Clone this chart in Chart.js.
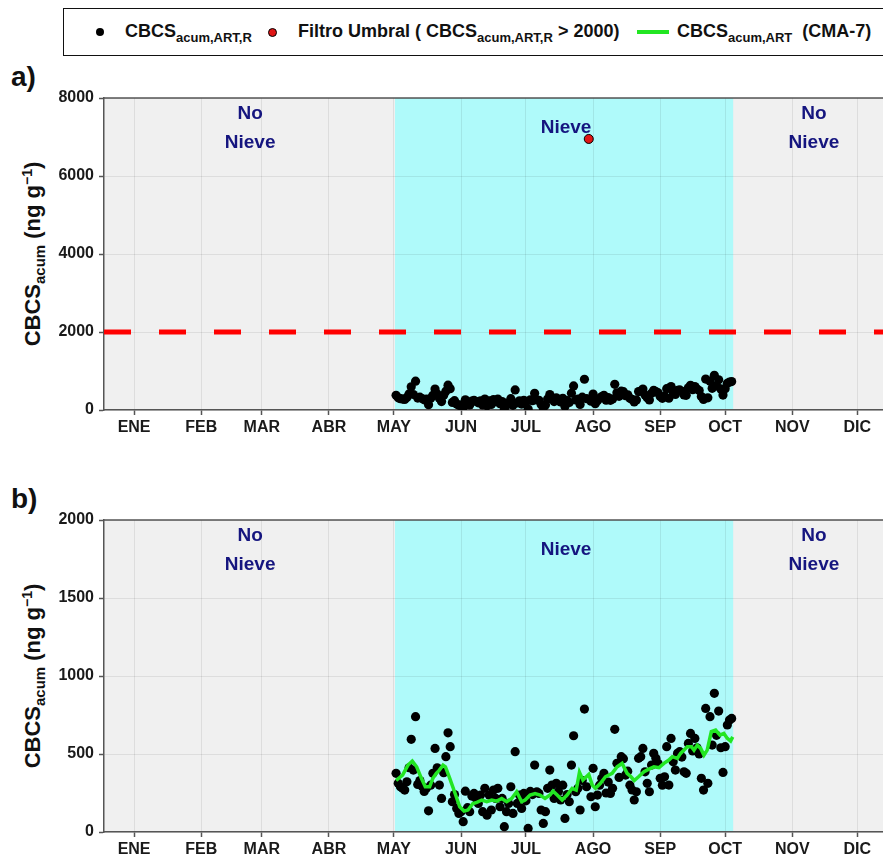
<!DOCTYPE html>
<html>
<head>
<meta charset="utf-8">
<title>CBCS acumulado</title>
<script src="https://cdn.jsdelivr.net/npm/chart.js@4.4.1/dist/chart.umd.min.js"></script>
<style>
  body { margin: 0; background: #fff; font-family: "Liberation Sans", Arial, sans-serif; }
  #lienzo { position: relative; width: 883px; height: 862px; overflow: hidden; }
  #leyenda { position: absolute; left: 63px; top: 8px; width: 840px; height: 45.5px; border: 1.5px solid #111; }
  .item { position: absolute; top: 12.3px; font-weight: bold; font-size: 18px; color: #111; white-space: nowrap; }
  .item sub { font-size: 13px; vertical-align: -5px; }
  .pt { position: absolute; top: 18.5px; width: 8px; height: 8px; border-radius: 50%; }
  .ln { position: absolute; top: 20.5px; width: 32px; height: 4px; background: #22e622; }
  .etq { position: absolute; left: 11px; font-weight: bold; font-size: 28px; color: #111; }
  .ytit { position: absolute; font-weight: bold; font-size: 22px; color: #111; white-space: nowrap;
          transform: translate(-50%, -50%) rotate(-90deg); }
  .ytit sub { font-size: 15px; vertical-align: -5px; }
  .ytit sup { font-size: 14px; vertical-align: 8px; }
  canvas { position: absolute; left: 0; }
</style>
</head>
<body>
<div id="lienzo">
  <div id="leyenda">
    <span class="pt" style="left:31.5px;background:#000"></span>
    <span class="item" style="left:61px">CBCS<sub>acum,ART,R</sub></span>
    <span class="pt" style="left:204px;background:#e01515;border:1px solid #000;width:7px;height:7px"></span>
    <span class="item" style="left:234px">Filtro Umbral ( CBCS<sub>acum,ART,R</sub> &gt; 2000)</span>
    <span class="ln" style="left:572.5px"></span>
    <span class="item" style="left:613px">CBCS<sub>acum,ART</sub>&nbsp; (CMA-7)</span>
  </div>

  <div class="etq" style="top:61px">a)</div>
  <div class="etq" style="top:483px">b)</div>

  <div class="ytit" style="left:33px;top:254px">CBCS<sub>acum</sub> (ng g<sup>&minus;1</sup>)</div>
  <div class="ytit" style="left:33px;top:676px">CBCS<sub>acum</sub> (ng g<sup>&minus;1</sup>)</div>

  <canvas id="graficoA" width="883" height="385" style="top:60px"></canvas>
  <canvas id="graficoB" width="883" height="380" style="top:482px"></canvas>
</div>

<script>
// dia del año (0 = 1 de enero) donde empieza cada mes
const meses = [0, 31, 59, 90, 120, 151, 181, 212, 243, 273, 304, 334];
const mesesEtiq = ['ENE', 'FEB', 'MAR', 'ABR', 'MAY', 'JUN', 'JUL', 'AGO', 'SEP', 'OCT', 'NOV', 'DIC'];

// periodo con nieve (dia del año)
const nieveIni = 120.5;
const nieveFin = 276.7;

// CBCS_acum,ART,R diario (ng/g), del 2 de mayo al 4 de octubre
const dias = [];
for (let d = 121; d <= 276; d++) { if (d !== 210) dias.push(d); }
const cbcs = [
  376, 312, 290, 280, 269, 322, 412, 594, 397, 739,
  305, 330, 294, 260, 280, 136, 300, 376, 536, 412,
  301, 215, 380, 483, 636, 547, 194, 240, 151, 119,
  130, 66, 262, 156, 130, 230, 247, 215, 183, 237,
  130, 280, 108, 237, 141, 269, 215, 280, 162, 215,
  34, 130, 183, 290, 119, 515, 183, 237, 151, 247,
  200, 23, 260, 240, 429, 258, 247, 141, 55, 130,
  280, 397, 301, 215, 312, 260, 205, 300, 87, 240,
  194, 429, 617, 258, 280, 141, 330, 788, 290,
  226, 408, 162, 237, 300, 344, 376, 250, 320, 247,
  280, 658, 440, 350, 483, 470, 365, 390, 300, 270,
  205, 258, 472, 483, 536, 386, 312, 258, 429, 504,
  472, 440, 344, 300, 354, 547, 301, 600, 450, 397,
  504, 515, 480, 386, 376, 568, 632, 520, 600, 540,
  500, 344, 269, 792, 312, 739, 557, 889, 620, 775,
  540, 382, 547, 686, 718, 728
];

// valor fuera de umbral
const atipicoDia = 210;
const atipicoValor = 6950;
const umbral = 2000;

// media movil centrada de 7 dias
const cmaDias = [121, 124, 126.5, 128.5, 130.5, 132.7, 134.5, 136.5, 138, 139.6, 141, 142.7, 143.8, 145.8, 148, 150.4,
  152.4, 154.2, 156.5, 158.3, 160.6, 162.9, 165.2, 167.5, 169.8, 172.1, 174.4, 176.7, 179, 180.6, 182.9, 185.2,
  187.5, 189.8, 192.1, 193.5, 195.4, 197.7, 200, 202.3, 204.2, 205.7, 207.3, 210, 211.6, 213.1, 215.4, 217.7,
  220.8, 223.1, 225.4, 227.7, 229.5, 231, 233, 235.5, 237.8, 240.1, 242.4, 244.7, 247, 248.6, 250.9, 252.4,
  254, 255.5, 257.4, 258.6, 260.1, 261.7, 263.2, 264.7, 266.6, 268.6, 270.6, 272.4, 274, 275.5, 276.5];
const cmaVals = [330, 365, 429, 455, 418, 344, 290, 290, 344, 376, 397, 429, 418, 344, 258, 162,
  134, 141, 183, 190, 205, 194, 205, 198, 215, 194, 215, 258, 194, 205, 237, 247,
  237, 215, 237, 262, 237, 205, 237, 280, 269, 382, 333, 369, 301, 280, 312, 354,
  376, 418, 440, 376, 354, 330, 354, 386, 403, 418, 412, 440, 461, 483, 472, 504,
  525, 547, 547, 525, 557, 536, 493, 525, 643, 653, 621, 632, 600, 583, 610];

const X_MIN = -13.9;
const X_MAX = 345.9;

const puntos = dias.map((d, i) => ({ x: d, y: cbcs[i] }));
const fuente = '"Liberation Sans", Arial, sans-serif';

// fondo gris, franja de nieve y textos
const fondo = {
  id: 'fondo',
  beforeDraw(chart) {
    const { ctx, chartArea: a, scales: { x } } = chart;
    ctx.save();
    ctx.fillStyle = '#f0f0f0';
    ctx.fillRect(a.left, a.top, a.right - a.left, a.bottom - a.top);
    ctx.fillStyle = '#affafa';
    const x1 = x.getPixelForValue(nieveIni), x2 = x.getPixelForValue(nieveFin);
    ctx.fillRect(x1, a.top, x2 - x1, a.bottom - a.top);
    ctx.restore();
  },
  beforeDatasetsDraw(chart) {
    const { ctx, chartArea: a, scales: { x } } = chart;
    ctx.save();
    ctx.fillStyle = '#15157f';
    ctx.font = 'bold 19px ' + fuente;
    ctx.textAlign = 'center';
    ctx.textBaseline = 'middle';
    [53.6, 314].forEach(d => {
      const px = x.getPixelForValue(d);
      ctx.fillText('No', px, a.top + 16);
      ctx.fillText('Nieve', px, a.top + 45);
    });
    ctx.fillText('Nieve', x.getPixelForValue(199.5), a.top + 30);
    // borde superior
    ctx.strokeStyle = '#555';
    ctx.lineWidth = 1.5;
    ctx.beginPath();
    ctx.moveTo(a.left, a.top);
    ctx.lineTo(a.right, a.top);
    ctx.stroke();
    ctx.restore();
  }
};

function panel(id, alto, yMax, paso, datasets) {
  return new Chart(document.getElementById(id), {
    type: 'scatter',
    data: { datasets },
    options: {
      responsive: false,
      animation: false,
      layout: { autoPadding: false, padding: { top: 38, left: 0, right: 0, bottom: 0 } },
      plugins: { legend: { display: false }, tooltip: { enabled: false } },
      scales: {
        x: {
          type: 'linear', min: X_MIN, max: X_MAX,
          afterBuildTicks: s => { s.ticks = meses.map(v => ({ value: v })); },
          afterFit: s => { s.height = alto; },
          ticks: {
            callback: (v, i) => mesesEtiq[i],
            autoSkip: false, maxRotation: 0, padding: 3,
            color: '#1a1a1a', font: { family: fuente, size: 16, weight: 'bold' }
          },
          grid: { color: 'rgba(0,0,0,0.08)', lineWidth: 1, tickColor: '#555', tickLength: 5, tickWidth: 1.5 },
          border: { color: '#555', width: 1.5 }
        },
        y: {
          min: 0, max: yMax,
          afterFit: s => { s.width = 104; },
          ticks: {
            stepSize: paso, padding: 5,
            callback: v => String(v),
            color: '#1a1a1a', font: { family: fuente, size: 16, weight: 'bold' }
          },
          grid: { color: 'rgba(0,0,0,0.08)', lineWidth: 1, tickColor: '#555', tickLength: 5, tickWidth: 1.5 },
          border: { color: '#555', width: 1.5 }
        }
      }
    },
    plugins: [fondo]
  });
}

panel('graficoA', 35, 8000, 2000, [
  {
    type: 'line', order: 0,
    data: [{ x: X_MIN, y: umbral }, { x: X_MAX, y: umbral }],
    borderColor: '#ff0000', borderWidth: 5, borderDash: [27, 28], pointRadius: 0
  },
  {
    order: 1, data: [{ x: atipicoDia, y: atipicoValor }],
    pointRadius: 4.5, backgroundColor: '#e01515', borderColor: '#000', borderWidth: 1
  },
  {
    order: 2, data: puntos,
    pointRadius: 4.6, backgroundColor: '#000', borderColor: '#000', borderWidth: 0
  }
]);

panel('graficoB', 30, 2000, 500, [
  {
    type: 'line', order: 0,
    data: cmaDias.map((d, i) => ({ x: d, y: cmaVals[i] })),
    borderColor: '#22e622', borderWidth: 3.5, pointRadius: 0, tension: 0
  },
  {
    order: 1, data: puntos,
    pointRadius: 4.6, backgroundColor: '#000', borderColor: '#000', borderWidth: 0
  }
]);
</script>
</body>
</html>
